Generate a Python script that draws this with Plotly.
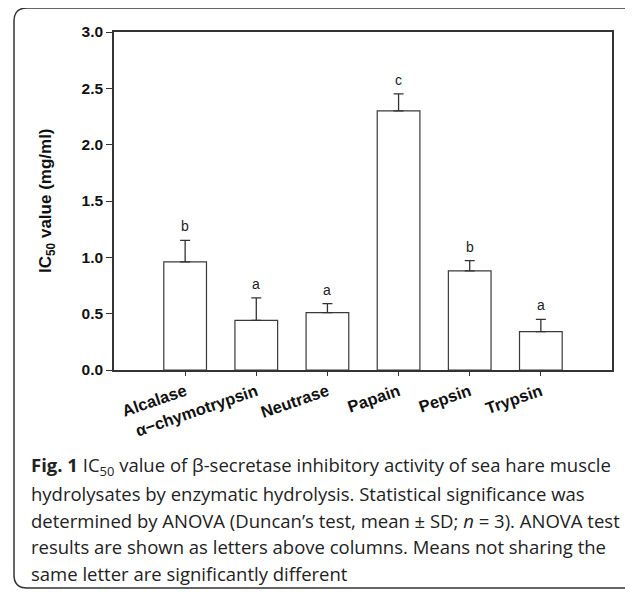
import plotly.graph_objects as go

categories = ["Alcalase", "α\u2212chymotrypsin", "Neutrase", "Papain", "Pepsin", "Trypsin"]
values = [0.96, 0.44, 0.51, 2.30, 0.88, 0.34]
errors = [0.19, 0.20, 0.08, 0.15, 0.09, 0.11]
letters = ["b", "a", "a", "c", "b", "a"]
y_ticks = [0.0, 0.5, 1.0, 1.5, 2.0, 2.5, 3.0]

caption_lines = [
    "<b>Fig. 1</b> IC<sub>50</sub> value of β-secretase inhibitory activity of sea hare muscle",
    "hydrolysates by enzymatic hydrolysis. Statistical significance was",
    "determined by ANOVA (Duncan’s test, mean ± SD; <i>n</i> = 3). ANOVA test",
    "results are shown as letters above columns. Means not sharing the",
    "same letter are significantly different",
]

# the page body has an 8px margin, so the figure is drawn 8px in from the corner
OFF = 8
W, H = 633 - OFF, 592 - OFF
L, R, T, B = 114 - OFF, 612 - OFF, 32 - OFF, 370 - OFF


def px2x(px):
    return (px - OFF - L) / (R - L)


def py2y(py):
    return (B - (py - OFF)) / (B - T)


xs = list(range(len(categories)))

fig = go.Figure()
fig.add_trace(go.Bar(
    x=xs, y=values, width=0.6,
    marker=dict(color="white", line=dict(color="#3a3a3a", width=1.2)),
    error_y=dict(type="data", symmetric=False, array=errors,
                 arrayminus=[0] * len(errors), color="#333333",
                 thickness=1.3, width=5),
    showlegend=False, hoverinfo="skip",
))

for i, (v, e, t) in enumerate(zip(values, errors, letters)):
    fig.add_annotation(x=i, y=v + e, text=t, showarrow=False, yanchor="bottom",
                       yshift=4, font=dict(family="Liberation Sans, Arial", size=14, color="#222"))

fig.add_annotation(xref="paper", yref="paper", x=px2x(47), y=0.5,
                   text="<b>IC<sub>50</sub> value (mg/ml)</b>", textangle=-90,
                   showarrow=False, xanchor="center", yanchor="middle",
                   font=dict(family="Liberation Sans, Arial", size=17, color="#111"))

cap_y = [466, 493, 520, 546.5, 573]
for line, cy in zip(caption_lines, cap_y):
    fig.add_annotation(xref="paper", yref="paper", x=px2x(29), y=py2y(cy),
                       text=line, showarrow=False, xanchor="left", yanchor="middle",
                       font=dict(family="Open Sans", size=18.5, color="#222"))

# rounded border box (figure frame)
rad = 13
lx, ty, by, rx = 14, 8, 588, 660
path = (f"M {px2x(rx)} {py2y(ty)} L {px2x(lx + rad)} {py2y(ty)} "
        f"Q {px2x(lx)} {py2y(ty)} {px2x(lx)} {py2y(ty + rad)} "
        f"L {px2x(lx)} {py2y(by - rad)} "
        f"Q {px2x(lx)} {py2y(by)} {px2x(lx + rad)} {py2y(by)} "
        f"L {px2x(rx)} {py2y(by)}")
fig.add_shape(type="path", xref="paper", yref="paper", path=path,
              line=dict(color="#333", width=1.5))

fig.update_xaxes(range=[-1, 6], tickmode="array", tickvals=xs, ticktext=categories,
                 tickangle=-19, ticks="outside", ticklen=4, tickwidth=1.2, tickcolor="#333",
                 showline=True, linecolor="#333", linewidth=1.5, mirror=True,
                 showgrid=False, zeroline=False,
                 tickfont=dict(family="Liberation Sans, Arial", size=16.5, color="#111", weight="bold"))
fig.update_yaxes(range=[0, 3], tickmode="array", tickvals=y_ticks,
                 ticktext=[f"{v:.1f}" for v in y_ticks],
                 ticks="outside", ticklen=6, tickwidth=1.2, tickcolor="#333",
                 showline=True, linecolor="#333", linewidth=1.5, mirror=True,
                 showgrid=False, zeroline=False,
                 tickfont=dict(family="Liberation Sans, Arial", size=15.5, color="#111", weight="bold"))

fig.update_layout(width=W, height=H, margin=dict(l=L, r=W - R, t=T, b=H - B, autoexpand=False),
                  plot_bgcolor="white", paper_bgcolor="white", bargap=0.4)

fig.write_html("out.html")
